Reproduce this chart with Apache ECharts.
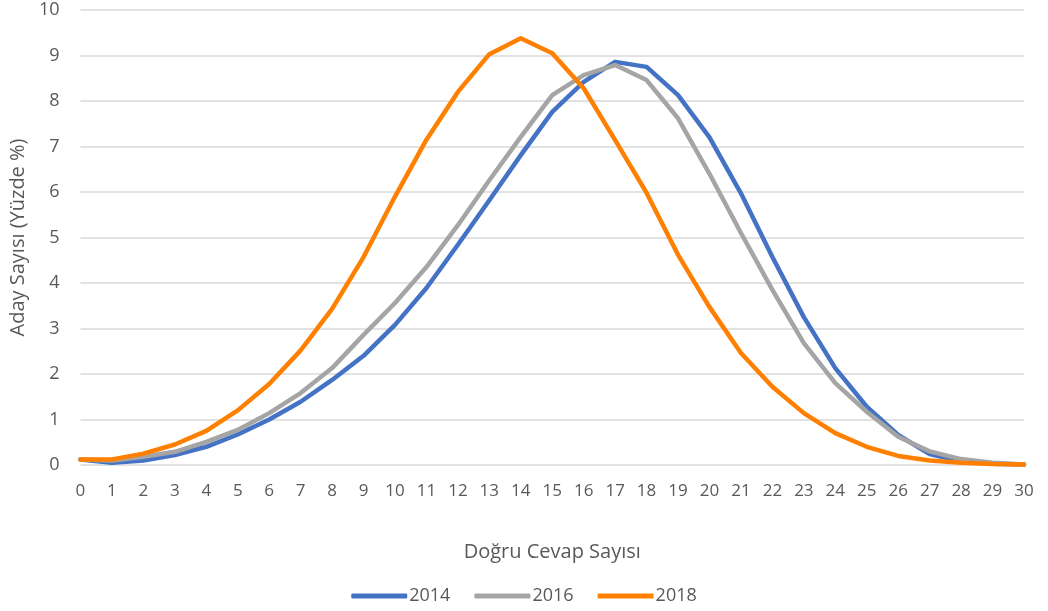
<!DOCTYPE html>
<html>
<head>
<meta charset="utf-8">
<script src="https://cdn.jsdelivr.net/npm/echarts@6/dist/echarts.min.js"></script>
<style>html,body{margin:0;padding:0;background:#fff}#c{width:1048px;height:611px}</style>
</head>
<body>
<div id="c"></div>
<script>
const categories = ['0','1','2','3','4','5','6','7','8','9','10','11','12','13','14','15','16','17','18','19','20','21','22','23','24','25','26','27','28','29','30'];
const s2014 = [0.12,0.05,0.10,0.22,0.40,0.67,1.00,1.39,1.87,2.40,3.08,3.89,4.84,5.82,6.81,7.76,8.42,8.86,8.75,8.13,7.20,5.97,4.57,3.25,2.13,1.28,0.66,0.24,0.08,0.03,0.01];
const s2016 = [0.12,0.10,0.18,0.29,0.51,0.77,1.14,1.58,2.13,2.86,3.56,4.35,5.27,6.26,7.21,8.13,8.57,8.79,8.46,7.62,6.40,5.10,3.85,2.68,1.80,1.17,0.62,0.30,0.13,0.05,0.01];
const s2018 = [0.12,0.12,0.25,0.45,0.75,1.20,1.78,2.52,3.43,4.57,5.90,7.15,8.20,9.03,9.38,9.05,8.28,7.14,5.98,4.62,3.47,2.46,1.72,1.14,0.70,0.40,0.20,0.10,0.05,0.02,0.01];
const yTicks = {min:0, max:10, interval:1};

const font = '"Open Sans", Lato, sans-serif';
const txt = '#595959';
const chart = echarts.init(document.getElementById('c'), null, {renderer:'canvas'});
const mk = (name, data, color) => ({
  name, type:'line', data, symbol:'none', smooth:false,
  lineStyle:{width:4.5, color, cap:'round', join:'round'},
  itemStyle:{color}
});
chart.setOption({
  animation:false,
  textStyle:{fontFamily:font},
  grid:{left:79, right:24, top:10, bottom:146, containLabel:false},
  legend:{
    top:582, left:'center', itemWidth:56, itemHeight:5, itemGap:24,
    icon:'roundRect',
    textStyle:{color:txt, fontSize:18, fontFamily:font, padding:[0,0,0,-3]},
    data:['2014','2016','2018']
  },
  xAxis:{
    type:'category', data:categories, boundaryGap:false,
    axisLine:{show:false}, axisTick:{show:false},
    axisLabel:{color:txt, fontSize:17, margin:18, fontFamily:font},
    name:'Doğru Cevap Sayısı', nameLocation:'middle', nameGap:77,
    nameTextStyle:{color:txt, fontSize:20, fontFamily:font}
  },
  yAxis:{
    type:'value', min:yTicks.min, max:yTicks.max, interval:yTicks.interval,
    axisLine:{show:false}, axisTick:{show:false},
    axisLabel:{color:txt, fontSize:18, margin:21, fontFamily:font},
    splitLine:{lineStyle:{color:'#d9d9d9', width:1.5}},
    name:'Aday Sayısı (Yüzde %)', nameLocation:'middle', nameGap:52, nameRotate:90,
    nameTextStyle:{color:txt, fontSize:20, fontFamily:font}
  },
  series:[
    mk('2014', s2014, '#4472c4'),
    mk('2016', s2016, '#a5a5a5'),
    mk('2018', s2018, '#ff8000')
  ]
});
</script>
</body>
</html>
